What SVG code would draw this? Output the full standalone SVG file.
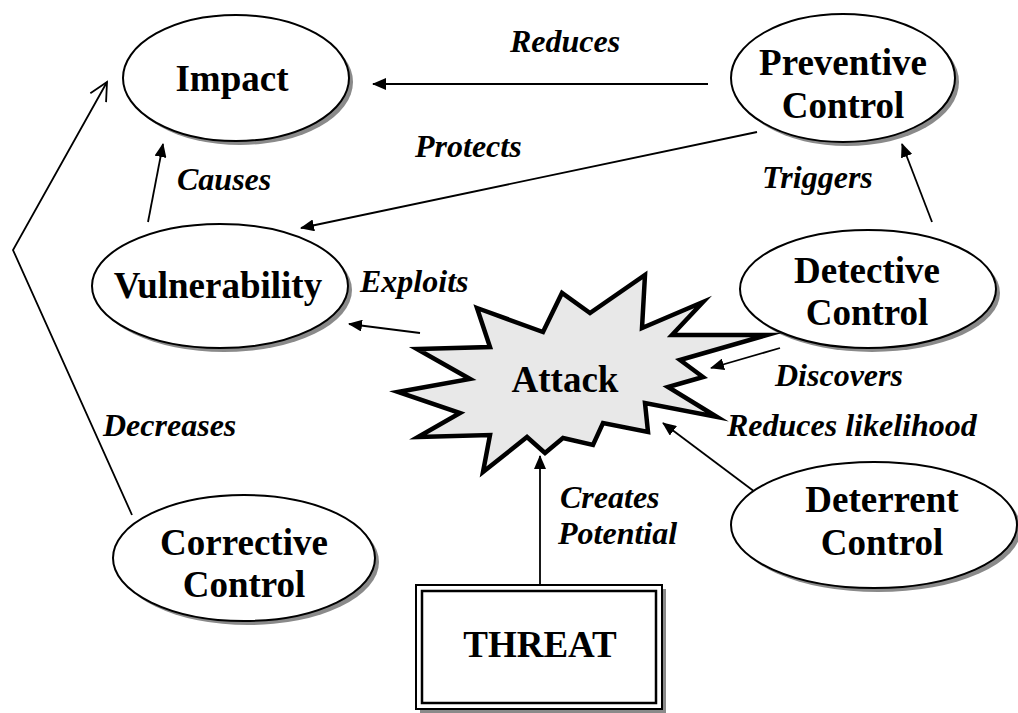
<svg xmlns="http://www.w3.org/2000/svg" width="1018" height="713" viewBox="0 0 1018 713">
<style>
.bg{fill:#fff}
.sh{fill:#8a8a8a}
.el{fill:#fff;stroke:#000;stroke-width:2}
.nt{font-family:"Liberation Serif",Tinos,"Times New Roman",serif;font-weight:bold;font-size:37px;fill:#000;text-anchor:middle}
.lb{font-family:"Liberation Serif",Tinos,"Times New Roman",serif;font-weight:bold;font-style:italic;font-size:32px;fill:#000}
.cn{stroke:#000;stroke-width:1.8;fill:none}
</style>
<defs>
<marker id="ah" markerWidth="14" markerHeight="12" refX="13" refY="6" orient="auto" markerUnits="userSpaceOnUse">
<path d="M0,0 L14,6 L0,12 Z" fill="#000"/>
</marker>
<marker id="oh" markerWidth="22" markerHeight="22" refX="20" refY="11" orient="auto" markerUnits="userSpaceOnUse">
<path d="M2,2 L20,11 L2,20" fill="none" stroke="#000" stroke-width="1.8"/>
</marker>
</defs>
<rect class="bg" x="0" y="0" width="1018" height="713"/>

<g id="connectors">
<line class="cn" x1="708" y1="84" x2="373" y2="84" marker-end="url(#ah)"/>
<line class="cn" x1="757" y1="132" x2="301" y2="228" marker-end="url(#ah)"/>
<line class="cn" x1="148" y1="222" x2="163" y2="144" marker-end="url(#ah)"/>
<line class="cn" x1="932" y1="222" x2="902" y2="144" marker-end="url(#ah)"/>
<line class="cn" x1="420" y1="333" x2="349" y2="324" marker-end="url(#ah)"/>
<line class="cn" x1="780" y1="348" x2="711" y2="368" marker-end="url(#ah)"/>
<line class="cn" x1="755" y1="492" x2="663" y2="423" marker-end="url(#ah)"/>
<line class="cn" x1="540" y1="585" x2="540" y2="456" marker-end="url(#ah)"/>
<polyline class="cn" points="132,515 13,250 107,82" marker-end="url(#oh)"/>
<text class="lb" x="510" y="52">Reduces</text>
<text class="lb" x="415" y="157">Protects</text>
<text class="lb" x="177" y="190">Causes</text>
<text class="lb" x="762" y="188">Triggers</text>
<text class="lb" x="360" y="292">Exploits</text>
<text class="lb" x="775" y="386">Discovers</text>
<text class="lb" x="727" y="436">Reduces likelihood</text>
<text class="lb" x="103" y="436">Decreases</text>
<text class="lb" x="560" y="508">Creates</text>
<text class="lb" x="558" y="544">Potential</text>
</g>

<g id="impact">
<ellipse class="sh" cx="240" cy="82" rx="113" ry="63"/>
<ellipse class="el" cx="236" cy="78" rx="113" ry="63"/>
<text class="nt" x="232" y="91">Impact</text>
</g>

<g id="preventive">
<ellipse class="sh" cx="847" cy="82" rx="112" ry="64"/>
<ellipse class="el" cx="843" cy="78" rx="112" ry="64"/>
<text class="nt" x="843" y="75">Preventive</text>
<text class="nt" x="843" y="118">Control</text>
</g>

<g id="vulnerability">
<ellipse class="sh" cx="224" cy="290" rx="128" ry="62"/>
<ellipse class="el" cx="220" cy="286" rx="128" ry="62"/>
<text class="nt" x="218" y="298">Vulnerability</text>
</g>

<g id="detective">
<ellipse class="sh" cx="872" cy="293" rx="128" ry="59"/>
<ellipse class="el" cx="868" cy="289" rx="128" ry="59"/>
<text class="nt" x="867" y="283">Detective</text>
<text class="nt" x="867" y="325">Control</text>
</g>

<g id="deterrent">
<ellipse class="sh" cx="878" cy="529" rx="143" ry="63"/>
<ellipse class="el" cx="874" cy="525" rx="143" ry="63"/>
<text class="nt" x="882" y="512">Deterrent</text>
<text class="nt" x="882" y="555">Control</text>
</g>

<g id="corrective">
<ellipse class="sh" cx="248" cy="562" rx="131" ry="63"/>
<ellipse class="el" cx="244" cy="558" rx="131" ry="63"/>
<text class="nt" x="244" y="555">Corrective</text>
<text class="nt" x="244" y="597">Control</text>
</g>

<g id="attack">
<polygon points="477,308 543,332 562,293 590,313 645,275 642,328 703,302 672,335 767,335 680,360 703,377 668,387 717,417 645,403 648,432 603,423 593,445 563,438 545,453 527,437 483,472 490,435 418,437 460,413 398,392 470,379 417,349 490,347" fill="#e8e8e8" stroke="#000" stroke-width="4.5" stroke-linejoin="miter" stroke-miterlimit="10"/>
<text class="nt" x="565" y="392">Attack</text>
</g>

<g id="threat">
<rect x="420" y="589" width="246" height="124" fill="#8a8a8a"/>
<rect x="416" y="585" width="246" height="124" fill="#fff" stroke="#000" stroke-width="2"/>
<rect x="422" y="591" width="234" height="112" fill="none" stroke="#000" stroke-width="2.5"/>
<text class="nt" x="540" y="657">THREAT</text>
</g>
</svg>
